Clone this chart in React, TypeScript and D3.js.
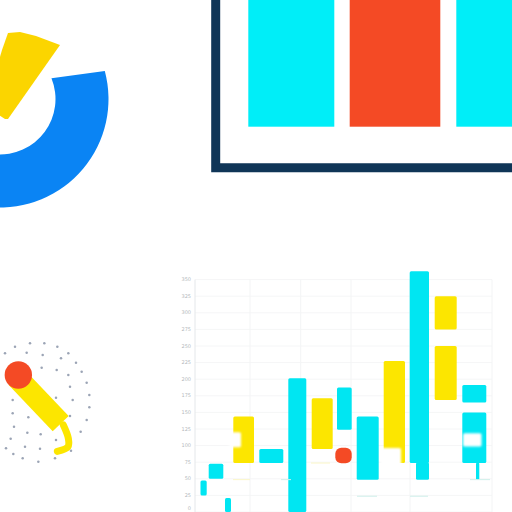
import React from "react";
import * as d3 from "d3";

// Tick labels of the lower chart, bottom first
const tickLabels = ["0", "25", "50", "75", "100", "125", "150", "175", "200", "225", "250", "275", "300", "325", "350"];
const verticalGrid = [0, 55, 105.7, 156, 215, 297];

// Lower chart range bars (x in chart units from the axis, v in tick steps from the bottom)
const cyanX0 = [5.5, 13.7, 30, 64.3, 93.3, 142, 161.7, 214.7, 221, 267.3, 267.3, 281];
const cyanX1 = [11.7, 28.3, 36, 88.3, 111.3, 156.7, 183.7, 234, 234, 291.3, 291.3, 284.3];
const cyanLow = [1, 2, 0, 2.95, 0, 4.95, 1.95, 2.95, 1.95, 6.6, 2.95, 1.95];
const cyanHigh = [1.9, 2.9, 0.85, 3.8, 8.05, 7.5, 5.75, 14.5, 3, 7.65, 6, 3];

const yellowX0 = [38.3, 116.7, 188.7, 239.7, 239.7];
const yellowX1 = [59, 137.7, 210, 261.7, 261.7];
const yellowLow = [2.95, 3.8, 2.95, 11, 6.75];
const yellowHigh = [5.75, 6.85, 9.1, 13, 10];

// Pale patches that interrupt the bars
const patchX0 = [34, 186, 268];
const patchX1 = [46, 206, 286.5];
const patchLow = [3.9, 2.7, 3.95];
const patchHigh = [4.8, 3.85, 4.75];

// Faint traces below the bars
const traceX0 = [86, 38, 162, 215, 116, 275];
const traceX1 = [96, 55, 182, 233, 135, 295];
const traceV = [1.95, 1.95, 0.95, 0.95, 2.95, 1.95];

// Red dot on the lower chart
const redDotX = [148.5];
const redDotV = [3.4];

// Upper panel
const panelCats = ["a", "b", "c"];
const panelStart = [248.3, 349.7, 456.3];
const panelEnd = [334.3, 440.3, 520];
const panelValues = [126.7, 126.7, 126.7];

// Gauge
const gaugeOuter = 108.5;
const gaugeInner = 55.5;
const gaugeOuterEnd = -15;
const gaugeInnerEnd = -22;
const gaugeTail = 95;

// Yellow wedge outline
const wedgeX = [-4, 2, 8, 20, 36, 60, 8, 5, -4];
const wedgeY = [70, 50, 33, 32, 36, 45, 119, 119, 113];

// Dot ring
const dotX = [15, 45, 90, 133, 172, 205, 228, 245, 260, 268, 268, 260, 242, 213, 165, 115, 68, 40, 18, 80, 128, 183, 125, 170, 205, 210, 168, 218, 210, 38, 38, 85, 42, 82, 122, 32, 75, 120, 168];
const dotY = [70, 50, 40, 40, 50, 70, 98, 125, 158, 195, 232, 270, 305, 362, 385, 395, 385, 372, 355, 68, 75, 85, 113, 120, 135, 170, 203, 210, 258, 210, 250, 262, 290, 308, 313, 326, 350, 356, 330];
const pointerX = [50, 182];
const pointerY = [142, 281];
const hookX = [190, 205, 204, 172];
const hookY = [285, 325, 350, 364];
const knobX = [55];
const knobY = [135];

const CYAN = "#00E6F2";
const YELLOW = "#FCE600";
const RED = "#F44A25";

export default function App() {
  const x = d3.scaleLinear().domain([0, 297]).range([195, 492]);
  const y = d3.scaleLinear().domain([0, 14]).range([512, 279.6]);
  const tx = d3.scaleLinear().domain([0, 512]).range([0, 512]);
  const panelH = d3.scaleLinear().domain([0, 126.7]).range([0, 126.7]);
  const dx = d3.scaleLinear().domain([0, 300]).range([0, 100]);
  const dy = d3.scaleLinear().domain([0, 420]).range([330, 470]);

  const rad = (d: number) => (d * Math.PI) / 180;
  const gp = d3.path();
  gp.arc(0, 99, gaugeOuter, rad(gaugeOuterEnd), rad(gaugeTail), false);
  gp.arc(0, 99, gaugeInner, rad(gaugeTail), rad(gaugeInnerEnd), true);
  gp.closePath();

  const wedge = d3
    .line<number>()
    .x((_, i) => tx(wedgeX[i]))
    .y((_, i) => tx(wedgeY[i]));
  const pointer = d3
    .line<number>()
    .x((_, i) => dx(pointerX[i]))
    .y((_, i) => dy(pointerY[i]));
  const hook = d3
    .line<number>()
    .x((_, i) => dx(hookX[i]))
    .y((_, i) => dy(hookY[i]))
    .curve(d3.curveCatmullRom);

  const rect = (k: string, i: number, a: number[], b: number[], lo: number[], hi: number[], fill: string, extra: any = {}) => (
    <rect key={k + i} x={x(a[i])} width={x(b[i]) - x(a[i])} y={y(hi[i])} height={y(lo[i]) - y(hi[i])} rx={1.5} fill={fill} {...extra} />
  );

  return (
    <svg width={512} height={512} viewBox="0 0 512 512" style={{ position: "absolute", left: 0, top: 0, background: "#fff" }}>
      <defs>
        <filter id="soft" x="-30%" y="-30%" width="160%" height="160%">
          <feGaussianBlur stdDeviation="1.2" />
        </filter>
      </defs>

      {/* Upper panel */}
      <path d="M215.7 -5V167.7H520" fill="none" stroke="#0F3557" strokeWidth={9} />
      {panelCats.map((c, i) => (
        <rect key={c} x={panelStart[i]} y={0} width={panelEnd[i] - panelStart[i]} height={panelH(panelValues[i])} fill={i === 1 ? RED : "#00EEF8"} />
      ))}

      {/* Gauge */}
      <path d={wedge(wedgeX) ?? ""} fill="#FBD500" />
      <path d={gp.toString()} fill="#0A84F4" />

      {/* Dot ring and pointer */}
      {dotX.map((d, i) => (
        <circle key={i} cx={dx(d)} cy={dy(dotY[i])} r={1.25} fill="#8A94A8" opacity={0.85} />
      ))}
      <path d={pointer(pointerX) ?? ""} stroke={YELLOW} strokeWidth={22} fill="none" />
      <path d={hook(hookX) ?? ""} stroke={YELLOW} strokeWidth={7} fill="none" strokeLinecap="round" />
      <circle cx={dx(knobX[0])} cy={dy(knobY[0])} r={13.7} fill={RED} />

      {/* Lower chart grid */}
      {tickLabels.map((t, i) => (
        <g key={i}>
          <line x1={x(0)} x2={x(297)} y1={y(i)} y2={y(i)} stroke="#F5F6F7" strokeWidth={1} />
          <text x={191} y={i === 0 ? 508.5 : y(i)} dy="0.32em" textAnchor="end" fontSize={5} fontFamily="DejaVu Sans" fill="#B4B8BC">
            {t}
          </text>
        </g>
      ))}
      {verticalGrid.map((v, i) => (
        <line key={i} x1={x(v)} x2={x(v)} y1={y(14)} y2={512} stroke={i === 0 ? "#E4E7EA" : "#F3F4F5"} />
      ))}

      {/* Lower chart bars */}
      {yellowX0.map((_, i) => rect("y", i, yellowX0, yellowX1, yellowLow, yellowHigh, YELLOW))}
      {cyanX0.map((_, i) => rect("c", i, cyanX0, cyanX1, cyanLow, cyanHigh, CYAN))}
      {patchX0.map((_, i) => rect("p", i, patchX0, patchX1, patchLow, patchHigh, "#fff", { filter: "url(#soft)" }))}
      {traceX0.map((_, i) => (
        <line key={i} x1={x(traceX0[i])} x2={x(traceX1[i])} y1={y(traceV[i])} y2={y(traceV[i])} stroke={i === 1 || i === 4 ? "#FBF6C8" : "#CFEFEA"} strokeWidth={1} />
      ))}
      <rect x={x(redDotX[0]) - 8.2} y={y(redDotV[0]) - 7.7} width={16.4} height={15.4} rx={6} fill={RED} />
    </svg>
  );
}
